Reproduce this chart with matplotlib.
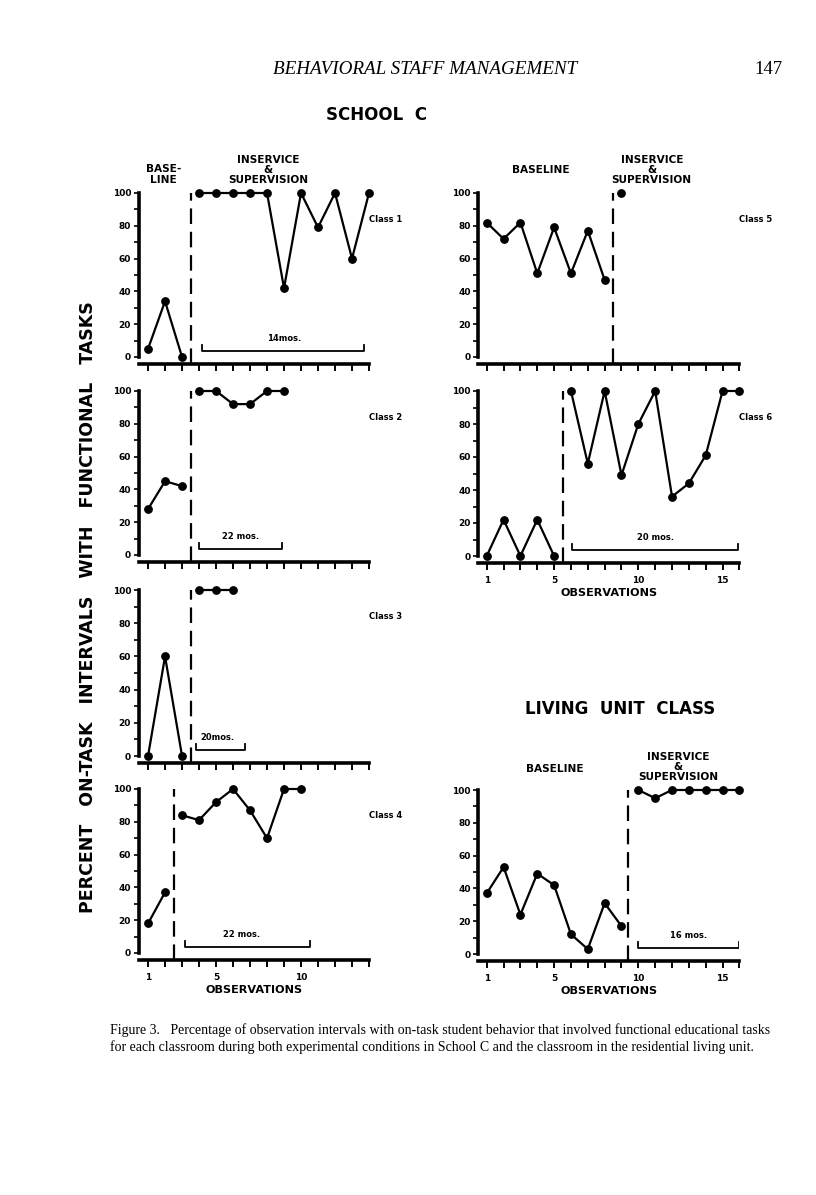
import matplotlib
matplotlib.use("Agg")
import matplotlib.pyplot as plt

# ---- data (percent on-task intervals) ----
class1_base = [5, 34, 0]
class1_treat = [100, 100, 100, 100, 100, 42, 100, 79, 100, 60, 100]
class2_base = [28, 45, 42]
class2_treat = [100, 100, 92, 92, 100, 100]
class3_base = [0, 60, 0]
class3_treat = [100, 100, 100]
class4_base = [18, 37]
class4_treat = [84, 81, 92, 100, 87, 70, 100, 100]
class5_base = [82, 72, 82, 51, 79, 51, 77, 47]
class5_treat = [100]
class6_base = [0, 22, 0, 22, 0]
class6_treat = [100, 56, 100, 49, 80, 100, 36, 44, 61, 100, 100]
living_base = [37, 53, 24, 49, 42, 12, 3, 31, 17]
living_treat = [100, 95, 100, 100, 100, 100, 100]

phase_change = [3.5, 3.5, 3.5, 2.5, 8.5, 5.5, 9.4]
brackets = [(4.2, 13.7, "14mos.", 9.0), (4.0, 8.9, "22 mos.", 6.45),
            (3.8, 6.7, "20mos.", 5.1), (3.2, 10.5, "22 mos.", 6.5), None,
            (6.05, 15.9, "20 mos.", 11.0), (10.0, 16.0, "16 mos.", 13.0)]
class_names = ["Class 1", "Class 2", "Class 3", "Class 4", "Class 5", "Class 6", None]

series = [(class1_base, class1_treat), (class2_base, class2_treat),
          (class3_base, class3_treat), (class4_base, class4_treat),
          (class5_base, class5_treat), (class6_base, class6_treat),
          (living_base, living_treat)]

W, H = 816, 1195
fig = plt.figure(figsize=(W / 100, H / 100), dpi=100)

# panel geometry in pixels: (x_left, x_right, obs_left, obs_right, y100, y0)
LEFT = (138.7, 369.0, 0.45, 14)
RIGHT = (478.3, 739.4, 0.5, 16)
geo = [LEFT + (193, 357), LEFT + (391, 555), LEFT + (590, 756), LEFT + (789, 953),
       RIGHT + (193, 357), RIGHT + (391, 556), RIGHT + (790, 954)]
xlabels_on = [False, False, False, True, False, True, True]
YLO = -4.5

bold = dict(fontweight="bold", family="DejaVu Sans", color="black")

axes = []
for i, (g, (base, treat)) in enumerate(zip(geo, series)):
    x0, x1, o0, o1, y100, y0 = g
    ybot = y0 + (-YLO) * (y0 - y100) / 100
    ax = fig.add_axes([x0 / W, 1 - ybot / H, (x1 - x0) / W, (ybot - y100) / H])
    axes.append(ax)
    ax.set_xlim(o0, o1)
    ax.set_ylim(YLO, 100)
    for s in ["top", "right"]:
        ax.spines[s].set_visible(False)
    ax.spines["left"].set_bounds(0, 100)
    ax.spines["left"].set_linewidth(2.6)
    ax.spines["bottom"].set_linewidth(2.6)

    n_base = len(base)
    xb = list(range(1, n_base + 1))
    xt = list(range(n_base + 1, n_base + len(treat) + 1))
    for xs, ys in [(xb, base), (xt, treat)]:
        ax.plot(xs, ys, color="black", lw=1.6, marker="o", ms=5.3, clip_on=False, zorder=5)

    ax.plot([phase_change[i]] * 2, [YLO, 100], color="black", lw=1.6,
            dashes=(7, 3.5), clip_on=False)

    b = brackets[i]
    if b is not None:
        bx0, bx1, txt, tx = b
        ax.plot([bx0, bx0, bx1, bx1], [7.5, 3.5, 3.5, 7.5], color="black", lw=1.3)
        ax.text(tx, 8.5, txt, ha="center", va="bottom", fontsize=6, **bold)

    if class_names[i]:
        ax.text(o1, 84, class_names[i], ha="left", va="center", fontsize=6, **bold)

    nmax = int(o1)
    ax.set_xticks(range(1, nmax + 1))
    if xlabels_on[i]:
        ax.set_xticklabels([str(k) if k in (1, 5, 10, 15) else "" for k in range(1, nmax + 1)])
    else:
        ax.set_xticklabels([])
    ax.tick_params(axis="x", direction="out", length=5, width=1.4, pad=4,
                   labelsize=6.5)
    ax.set_yticks(range(0, 101, 20))
    ax.set_yticks(range(10, 100, 20), minor=True)
    ax.tick_params(axis="y", which="both", direction="out", length=3.5, width=1.2,
                   pad=2, labelsize=6.5)
    for lab in ax.get_xticklabels() + ax.get_yticklabels():
        lab.set_fontweight("bold")

    if xlabels_on[i]:
        ax.set_xlabel("OBSERVATIONS", fontsize=8.1, labelpad=2, **bold)

# phase headings
ax1, ax5, ax7 = axes[0], axes[4], axes[6]
hs = 7.6
ax1.text(1.9, 111.5, "BASE-\nLINE", ha="center", va="center", fontsize=hs,
         linespacing=1.1, clip_on=False, **bold)
ax1.text(8.06, 114, "INSERVICE\n&\nSUPERVISION", ha="center", va="center", fontsize=hs,
         linespacing=1.05, clip_on=False, **bold)
ax5.text(4.23, 114, "BASELINE", ha="center", va="center", fontsize=hs, **bold)
ax5.text(10.8, 114, "INSERVICE\n&\nSUPERVISION", ha="center", va="center", fontsize=hs,
         linespacing=1.05, **bold)
ax7.text(5.05, 112.8, "BASELINE", ha="center", va="center", fontsize=hs, **bold)
ax7.text(12.35, 114, "INSERVICE\n&\nSUPERVISION", ha="center", va="center", fontsize=hs,
         linespacing=1.05, **bold)

# page texts
fig.text(425 / W, 1 - 70 / H, "BEHAVIORAL STAFF MANAGEMENT", ha="center", va="center",
         fontsize=13.8, style="italic", family="Liberation Serif")
fig.text(768 / W, 1 - 70 / H, "147", ha="center", va="center", fontsize=13.5,
         family="Liberation Serif")
fig.text(377 / W, 1 - 115 / H, "SCHOOL  C", ha="center", va="center", fontsize=12, **bold)
fig.text(620 / W, 1 - 709 / H, "LIVING  UNIT  CLASS", ha="center", va="center",
         fontsize=12, **bold)
fig.text(88 / W, 1 - 607 / H,
         "PERCENT   ON-TASK   INTERVALS   WITH   FUNCTIONAL   TASKS",
         rotation=90, ha="center", va="center", fontsize=12.5, **bold)
fig.text(110 / W, 1 - 1030 / H,
         "Figure 3.   Percentage of observation intervals with on-task student behavior "
         "that involved functional educational tasks",
         ha="left", va="center", fontsize=10.0, family="Liberation Serif")
fig.text(110 / W, 1 - 1047 / H,
         "for each classroom during both experimental conditions in School C and the "
         "classroom in the residential living unit.",
         ha="left", va="center", fontsize=10.0, family="Liberation Serif")

fig.savefig("out.png", dpi=100)
